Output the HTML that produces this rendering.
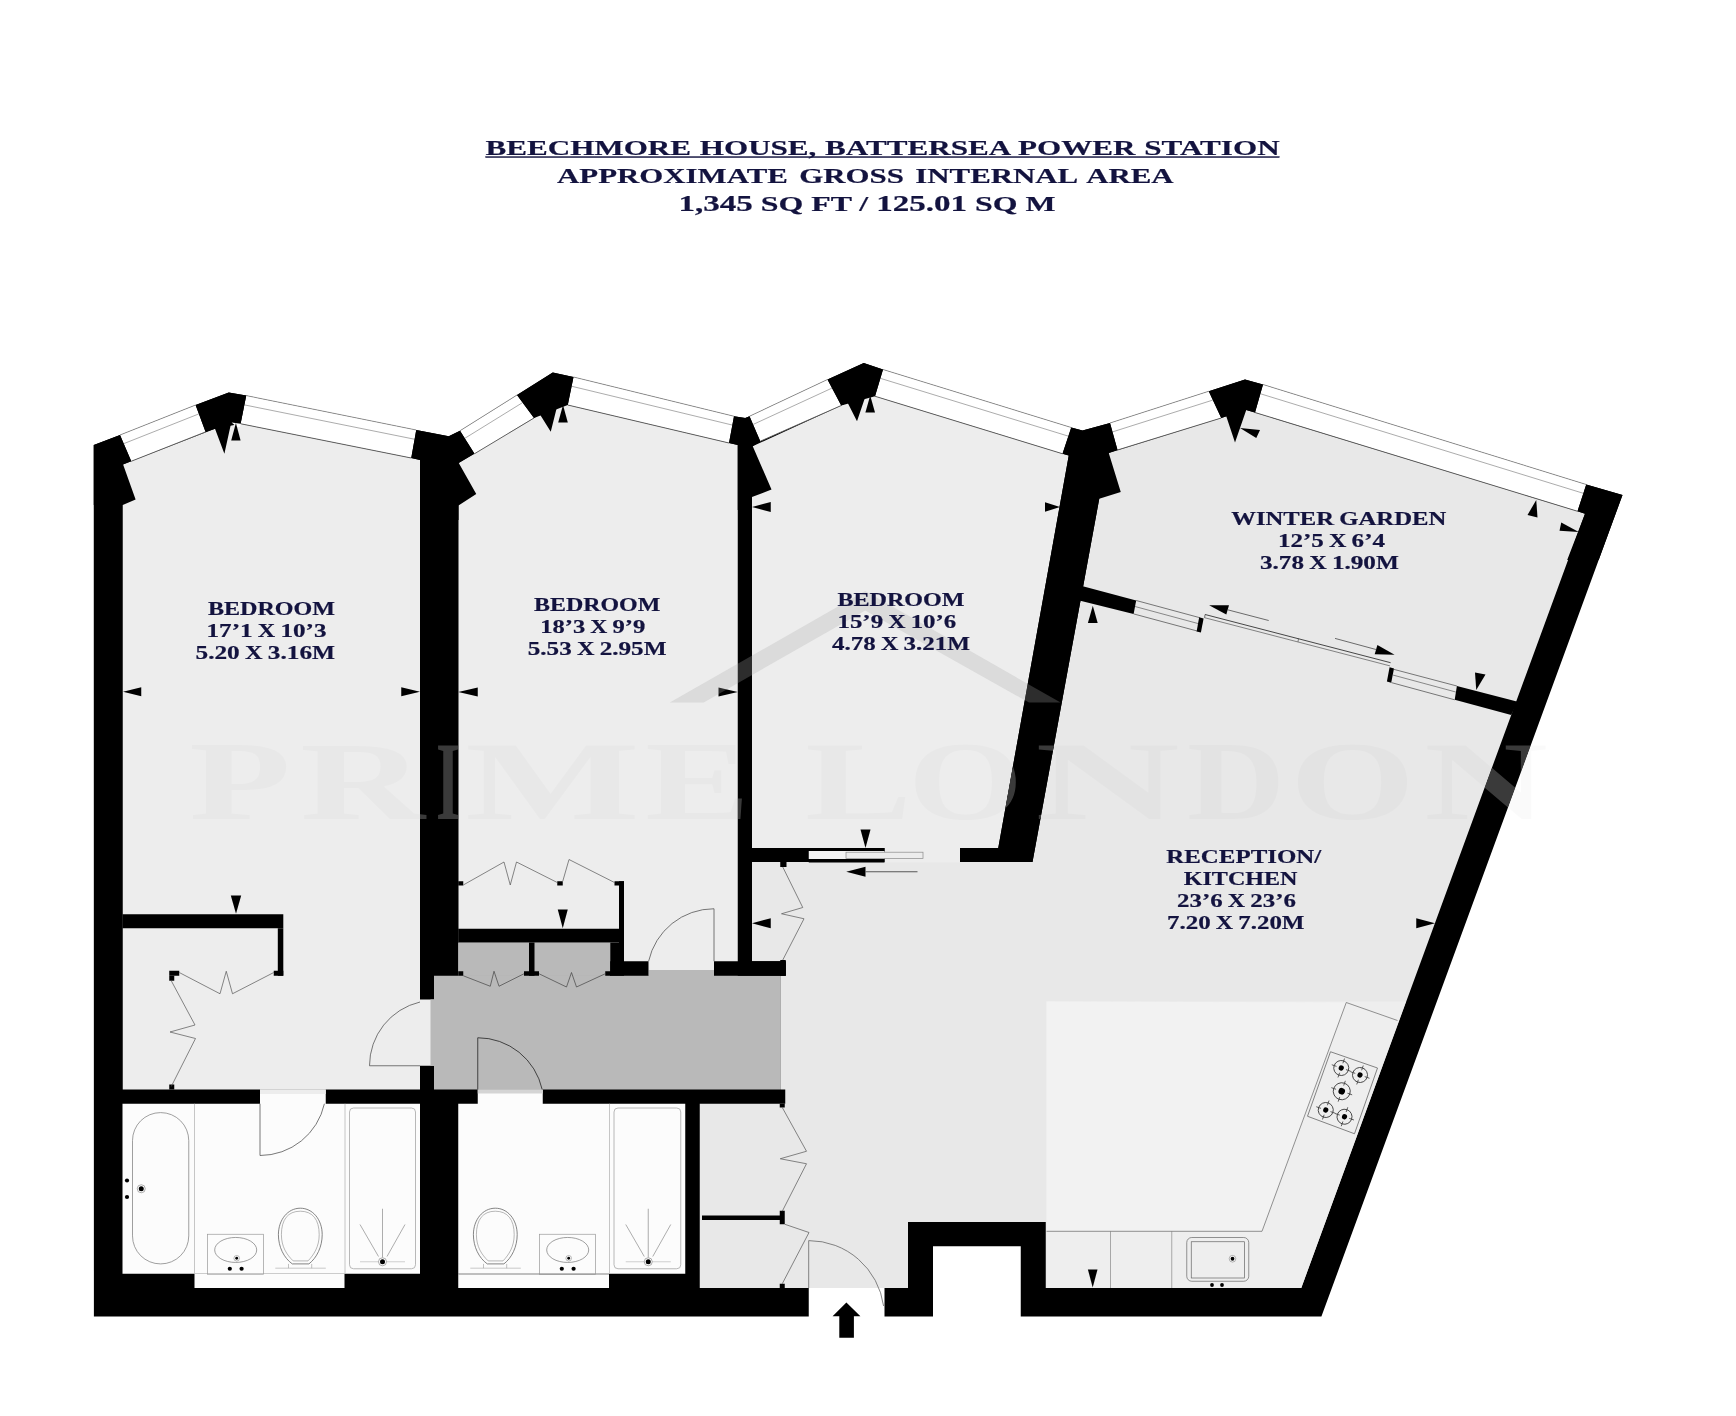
<!DOCTYPE html>
<html lang="en">
<head>
<meta charset="utf-8">
<title>Beechmore House, Battersea Power Station - Floor plan</title>
<style>
html,body{margin:0;padding:0;background:#fff;}
body{width:1736px;height:1416px;overflow:hidden;font-family:"Liberation Serif",serif;}
svg{display:block;}
</style>
</head>
<body>
<svg width="1736" height="1416" viewBox="0 0 1736 1416">
<rect width="1736" height="1416" fill="#fff"/>
<polygon points="93.75,445 120,435 195.6,405 228.75,392.5 246.25,395.6 416.25,430 448.75,436.25 460,430.75 517,395 552.75,372.5 573.5,377 734,416.25 745.25,418 749.5,416.25 827.5,379.5 863.75,363 883,369.5 1071.25,427.5 1082.5,430.5 1110,423 1208.75,391.25 1245,379.5 1263,384.5 1586.25,484.5 1622.5,495 1321.4,1316.6 93.9,1316.6" fill="#000" />
<polygon points="122.75,464.4 215,428.75 240.6,423.75 411.25,458 420,460 420,1089.5 122.75,1089.5" fill="#ededed" />
<polygon points="458.5,463 534,418 567.75,405 729,443 737.75,445 737.75,975.75 458.5,975.75" fill="#ededed" />
<polygon points="752,446.5 841.25,405.5 875,396.25 1062.5,453.75 1068.75,455.5 998.25,848 752,848" fill="#ededed" />
<polygon points="1032.5,862 1099.25,498.75 1108.75,453 1221.25,418 1246.25,410 1577.5,511.25 1585,513.75 1301.25,1288 1045.75,1288 1045.75,1222 908,1222 908,1288 699.75,1288 699.75,1103.75 785.25,1103.75 785.25,1089.5 780.25,1089.5 780.25,975.75 785.75,975.75 785.75,961.25 752,961.25 752,862" fill="#e8e8e8" />
<rect x="884.5" y="847" width="75.5" height="15.3" fill="#ededed" />
<rect x="419" y="999.5" width="16" height="66.25" fill="#ededed" />
<polygon points="1046.5,1001.5 1405.91,1001.5 1301.25,1288 1046.5,1288" fill="#eeeeee" />
<polygon points="1046.5,1001.5 1346.25,1002.5 1262,1231.3 1046.5,1231.3" fill="#f2f2f2" />
<rect x="434" y="975.75" width="346" height="113.75" fill="#b9b9b9" />
<rect x="458.25" y="942.5" width="152" height="33.25" fill="#b9b9b9" />
<rect x="648.5" y="970" width="65.5" height="6" fill="#b9b9b9" />
<rect x="430.5" y="999.5" width="4" height="66.25" fill="#b9b9b9" />
<rect x="122.5" y="1103.75" width="297.5" height="170" fill="#fcfcfc" />
<rect x="194.5" y="1273.75" width="150" height="14.25" fill="#fcfcfc" />
<rect x="260" y="1089.5" width="65.75" height="14.5" fill="#fcfcfc" />
<rect x="260" y="1089.5" width="65.75" height="4.5" fill="#ededed" />
<rect x="458.25" y="1103.75" width="227" height="170" fill="#fcfcfc" />
<rect x="458.25" y="1273.75" width="150.75" height="14.25" fill="#fcfcfc" />
<rect x="477.75" y="1089.5" width="65" height="14.5" fill="#fcfcfc" />
<rect x="477.75" y="1089.5" width="65" height="4" fill="#d4d4d4" />
<rect x="808.75" y="1288" width="75.75" height="30" fill="#fff" />
<rect x="933" y="1246.25" width="87.75" height="71.75" fill="#fff" />
<polygon points="120,435 195.6,405 205.6,431.9 131.25,461.25" fill="#fff" />
<polyline points="120,435 195.6,405" fill="none" stroke="#777" stroke-width="0.7" />
<polyline points="123.713,443.663 198.9,413.877" fill="none" stroke="#888" stroke-width="0.7" />
<polyline points="131.25,461.25 205.6,431.9" fill="none" stroke="#555" stroke-width="0.9" />
<polygon points="246.25,395.6 416.25,430 411.25,458 240.6,423.75" fill="#fff" />
<polyline points="246.25,395.6 416.25,430" fill="none" stroke="#777" stroke-width="0.7" />
<polyline points="244.386,404.889 414.6,439.24" fill="none" stroke="#888" stroke-width="0.7" />
<polyline points="240.6,423.75 411.25,458" fill="none" stroke="#555" stroke-width="0.9" />
<polygon points="460,430.75 517,395 534,418 474.5,453.75" fill="#fff" />
<polyline points="460,430.75 517,395" fill="none" stroke="#777" stroke-width="0.7" />
<polyline points="464.785,438.34 522.61,402.59" fill="none" stroke="#888" stroke-width="0.7" />
<polyline points="474.5,453.75 534,418" fill="none" stroke="#555" stroke-width="0.9" />
<polygon points="573.5,377 734,416.25 729,443 567.75,405" fill="#fff" />
<polyline points="573.5,377 734,416.25" fill="none" stroke="#777" stroke-width="0.7" />
<polyline points="571.602,386.24 732.35,425.077" fill="none" stroke="#888" stroke-width="0.7" />
<polyline points="567.75,405 729,443" fill="none" stroke="#555" stroke-width="0.9" />
<polygon points="749.5,416.25 827.5,379.5 841.25,405.5 760.25,441.25" fill="#fff" />
<polyline points="749.5,416.25 827.5,379.5" fill="none" stroke="#777" stroke-width="0.7" />
<polyline points="753.048,424.5 832.038,388.08" fill="none" stroke="#888" stroke-width="0.7" />
<polyline points="760.25,441.25 841.25,405.5" fill="none" stroke="#555" stroke-width="0.9" />
<polygon points="883,369.5 1071.25,427.5 1062.5,453.75 875,396.25" fill="#fff" />
<polyline points="883,369.5 1071.25,427.5" fill="none" stroke="#777" stroke-width="0.7" />
<polyline points="880.36,378.327 1068.36,436.163" fill="none" stroke="#888" stroke-width="0.7" />
<polyline points="875,396.25 1062.5,453.75" fill="none" stroke="#555" stroke-width="0.9" />
<polygon points="1110,423 1208.75,391.25 1221.25,418 1117.5,450" fill="#fff" />
<polyline points="1110,423 1208.75,391.25" fill="none" stroke="#777" stroke-width="0.7" />
<polyline points="1112.47,431.91 1212.88,400.077" fill="none" stroke="#888" stroke-width="0.7" />
<polyline points="1117.5,450 1221.25,418" fill="none" stroke="#555" stroke-width="0.9" />
<polygon points="1263,384.5 1586.25,484.5 1577.5,511.25 1255,412.5" fill="#fff" />
<polyline points="1263,384.5 1586.25,484.5" fill="none" stroke="#777" stroke-width="0.7" />
<polyline points="1260.36,393.74 1583.36,493.327" fill="none" stroke="#888" stroke-width="0.7" />
<polyline points="1255,412.5 1577.5,511.25" fill="none" stroke="#555" stroke-width="0.9" />
<polygon points="93.75,445 120,435 131.25,461.25 123.1,464.4 135.6,499.4 122.75,505 93.75,505" fill="#000" />
<polygon points="195.6,405 228.75,392.5 246.25,395.6 240.6,423.75 231.25,422.5 224.4,453.75 215,428.75 205.6,431.9" fill="#000" />
<polygon points="231.6,422.5 240.6,423.75 240,427 237,427" fill="#fff" />
<polygon points="416.25,430 448.75,436.25 460,430.75 474.5,453.75 458.75,463 476.25,494 458.5,505.5 458.5,520 420,520 420,460 411.25,458" fill="#000" />
<polygon points="517,395 552.75,372.5 573.5,377 567.75,405 557.75,403.75 550.75,431.75 540,414.5 534,418" fill="#000" />
<polygon points="734,416.25 745.25,418 749.5,416.25 760.25,441.25 752.75,446.25 771.5,489.5 752,497 752,510 737.75,510 737.75,445 729,443" fill="#000" />
<polygon points="827.5,379.5 863.75,363 883,369.5 875,396.25 866.25,394 857,421.25 847.5,402.5 841.25,405.5" fill="#000" />
<polygon points="1071.25,427.5 1082.5,430.5 1110,423 1117.5,450 1108.75,453 1120.75,492 1099.25,498.75 1032.5,862 960,862 960,848 998.25,848 1068.75,455.5 1062.5,453.75" fill="#000" />
<polygon points="1208.75,391.25 1245,379.5 1263,384.5 1255,412.5 1246.25,410 1235,442.5 1226.25,416.25 1221.25,418" fill="#000" />
<polygon points="1586.25,484.5 1622.5,495 1598.69,560 1567.19,560 1585,513.75 1577.5,511.25" fill="#000" />
<rect x="122.5" y="914.25" width="160.8" height="14" fill="#000" />
<rect x="277.8" y="928.25" width="5.5" height="47.5" fill="#000" />
<rect x="273.75" y="970.75" width="9.55" height="5" fill="#000" />
<rect x="169.25" y="970.75" width="10" height="5" fill="#000" />
<rect x="169.25" y="975.75" width="5" height="5" fill="#000" />
<rect x="169.25" y="1084.5" width="5" height="5" fill="#000" />
<rect x="458.25" y="928.75" width="165.75" height="13.75" fill="#000" />
<rect x="619" y="881.25" width="5" height="80" fill="#000" />
<rect x="614.5" y="881.25" width="9.5" height="4.25" fill="#000" />
<rect x="610.25" y="942.5" width="13.75" height="33.25" fill="#000" />
<rect x="610.25" y="961.25" width="38.25" height="14.5" fill="#000" />
<rect x="529" y="942.5" width="5.5" height="33.25" fill="#000" />
<rect x="714" y="961.25" width="71.75" height="14.5" fill="#000" />
<rect x="458.25" y="881.25" width="5" height="4.25" fill="#000" />
<rect x="557.25" y="881.25" width="5.5" height="4.25" fill="#000" />
<rect x="458.25" y="971.25" width="5" height="4.5" fill="#000" />
<rect x="524" y="971.25" width="15" height="4.5" fill="#000" />
<rect x="605.25" y="971.25" width="5.75" height="4.5" fill="#000" />
<rect x="780.25" y="862" width="6.25" height="5" fill="#000" />
<rect x="780.25" y="960" width="5.5" height="15.75" fill="#000" />
<rect x="752" y="848" width="56.75" height="14" fill="#000" />
<rect x="808.75" y="848" width="75.75" height="14.5" fill="#000" />
<rect x="808.75" y="851" width="75.75" height="8" fill="#f4f4f4" />
<rect x="846" y="852.2" width="77" height="6.2" fill="#ececec" stroke="#8a8a8a" stroke-width="0.7"/>
<polygon points="1081.9,585.9 1136.2,600.5 1133.6,613.9 1079.3,600.5" fill="#000" />
<polygon points="1456.9,686 1517.8,701.7 1511.2,715 1454.7,699.8" fill="#000" />
<rect x="702" y="1215.5" width="78.25" height="4.5" fill="#000" />
<rect x="779.75" y="1210.75" width="5" height="13.5" fill="#000" />
<rect x="779.75" y="1103.75" width="5" height="3.75" fill="#000" />
<rect x="779.75" y="1283.75" width="5" height="4.25" fill="#000" />
<polyline points="1136.2,600.5 1199.8,617.7" fill="none" stroke="#444" stroke-width="0.7" />
<polyline points="1135,606.5 1198.6,623.7" fill="none" stroke="#444" stroke-width="0.6" />
<polyline points="1133.6,613.9 1197.2,631" fill="none" stroke="#444" stroke-width="0.7" />
<polygon points="1199.2,617.2 1203.6,618.4 1200.9,632.6 1196.6,631.4" fill="#000" />
<polyline points="1205.1,614.5 1390.6,662.7" fill="none" stroke="#333" stroke-width="0.9" />
<polyline points="1204.6,617.7 1390,665.9" fill="none" stroke="#555" stroke-width="0.7" />
<polyline points="1205.1,614.5 1204.6,617.7" fill="none" stroke="#333" stroke-width="0.7" />
<polyline points="1298.5,638.6 1298,641.8" fill="none" stroke="#333" stroke-width="0.6" />
<polygon points="1389.6,667.3 1394,668.5 1391.2,682.8 1386.9,681.6" fill="#000" />
<polyline points="1394,669.4 1456.9,686" fill="none" stroke="#444" stroke-width="0.7" />
<polyline points="1392.8,675 1455.8,692" fill="none" stroke="#444" stroke-width="0.6" />
<polyline points="1391.4,682.6 1454.7,699.8" fill="none" stroke="#444" stroke-width="0.7" />
<polygon points="1209.1,605.2 1229,605.2 1226.3,614.5" fill="#000" />
<polyline points="1228,609.9 1268.7,620.5" fill="none" stroke="#333" stroke-width="0.7" />
<polygon points="1394.6,654.8 1377.4,645 1374.7,654.3" fill="#000" />
<polyline points="1335,638.4 1376,649.5" fill="none" stroke="#333" stroke-width="0.7" />
<polygon points="123,691.75 141.25,687.15 141.25,696.35" fill="#000" />
<polygon points="420,691.75 401.25,687.15 401.25,696.35" fill="#000" />
<polygon points="235.9,423.1 231.2,440.6 240.6,440.6" fill="#000" />
<polygon points="236,913.75 230.8,895.5 241.2,895.5" fill="#000" />
<polygon points="458.25,692 477.75,687.4 477.75,696.6" fill="#000" />
<polygon points="737.75,692 718.5,687.4 718.5,696.6" fill="#000" />
<polygon points="563,405 558.2,422.5 567.8,422.5" fill="#000" />
<polygon points="562.75,928.25 557.75,909.5 567.75,909.5" fill="#000" />
<polygon points="752,507 770.75,502 770.75,512" fill="#000" />
<polygon points="1060,507 1045,502.2 1045,511.8" fill="#000" />
<polygon points="870.2,395.5 865.4,412.5 875,412.5" fill="#000" />
<polygon points="865.5,848 860.5,829.5 870.5,829.5" fill="#000" />
<polygon points="752,923.25 770.75,918.25 770.75,928.25" fill="#000" />
<polygon points="846.25,871.75 865.5,866.75 865.5,876.75" fill="#000" />
<polyline points="865.5,871.75 917.5,871.75" fill="none" stroke="#333" stroke-width="0.8" />
<polygon points="1240,428 1260,430 1256.25,438" fill="#000" />
<polygon points="1536.25,500 1527.5,515 1537.5,517.5" fill="#000" />
<polygon points="1561.25,522.5 1578.75,532 1559.5,530.75" fill="#000" />
<polygon points="1476.25,690 1475,672.5 1485.5,674.5" fill="#000" />
<polygon points="1092.8,605.8 1087.9,623 1097.7,623" fill="#000" />
<polygon points="1435,923.25 1416.25,918.25 1416.25,928.25" fill="#000" />
<polygon points="1092.7,1287.5 1087.9,1269.5 1097.5,1269.5" fill="#000" />
<polygon points="846.4,1302.5 860.4,1316.25 853.9,1316.25 853.9,1337.8 839.3,1337.8 839.3,1316.25 832.6,1316.25" fill="#000" />
<path d="M420,1065.75 L369.5,1065.75 A65.5,65.5 0 0 1 420,1002" fill="none" stroke="#555" stroke-width="0.8"/>
<path d="M714,961.25 L714,908.75 A67,67 0 0 0 648.6,961.25" fill="none" stroke="#555" stroke-width="0.8"/>
<path d="M260,1103.75 L260,1155.5 A66,66 0 0 0 324.4,1103.75" fill="none" stroke="#555" stroke-width="0.8"/>
<path d="M477.75,1089.5 L477.75,1037.75 A66,66 0 0 1 542.2,1089.5" fill="none" stroke="#333" stroke-width="0.9"/>
<path d="M808.7,1288 L808.7,1240.6 A75.6,75.6 0 0 1 883.6,1306" fill="none" stroke="#666" stroke-width="0.8"/>
<polyline points="179.25,972.5 220,993.75 226.25,971.25 232.5,993.75 273.75,972.5" fill="none" stroke="#555" stroke-width="0.7" />
<polyline points="171.25,980.75 195,1025 170,1032 195.5,1038.5 171.25,1086.5" fill="none" stroke="#555" stroke-width="0.7" />
<polyline points="463.25,885 504,862 510.25,885 516.5,862 557.25,882.5" fill="none" stroke="#555" stroke-width="0.7" />
<polyline points="562.75,881.25 569,859.5 614.5,882.5" fill="none" stroke="#555" stroke-width="0.7" />
<polyline points="463.25,975.75 490.25,986.25 494,971.25 499,986.25 524,973.75" fill="none" stroke="#444" stroke-width="0.7" />
<polyline points="539,973.75 566.5,987 571.5,972.5 576.5,987 605.25,973.75" fill="none" stroke="#444" stroke-width="0.7" />
<polyline points="782.75,867 802.75,907.5 781.5,913.75 804,918.75 782.75,960" fill="none" stroke="#555" stroke-width="0.7" />
<polyline points="782.25,1107.5 806.5,1151.25 780.25,1158.75 806.5,1163.75 782.25,1211.25" fill="none" stroke="#555" stroke-width="0.7" />
<polyline points="784.75,1224.25 809,1232.5 782.25,1283.75" fill="none" stroke="#555" stroke-width="0.7" />
<rect x="132.5" y="1112.6" width="56.25" height="151.3" rx="28" ry="28" fill="none" stroke="#777" stroke-width="0.7"/>
<polyline points="194.5,1103.75 194.5,1273.75" fill="none" stroke="#b8b8b8" stroke-width="0.8" />
<circle cx="127" cy="1180.5" r="2.1"/><circle cx="127" cy="1197" r="2.1"/>
<circle cx="141.25" cy="1188.75" r="4" fill="#fff" stroke="#777" stroke-width="0.6"/><circle cx="141.25" cy="1188.75" r="2.5"/>
<rect x="207.5" y="1234.25" width="56" height="40" fill="none" stroke="#999" stroke-width="0.7"/>
<ellipse cx="235.7" cy="1249.95" rx="21" ry="12.5" fill="none" stroke="#777" stroke-width="0.7"/>
<circle cx="236.7" cy="1258.25" r="2.8" fill="#fff" stroke="#777" stroke-width="0.5"/><circle cx="236.7" cy="1258.25" r="1.4"/>
<circle cx="229.79999999999998" cy="1268.75" r="2.1"/><circle cx="241.6" cy="1268.75" r="2.1"/>
<path d="M292.3,1263.9 L308.9,1263.9 C316.8,1257.9 322.2,1246.7 322.2,1234.7 C322.2,1219.7 312.8,1208.2 300.3,1208.2 C287.8,1208.2 278.4,1219.7 278.4,1234.7 C278.4,1246.7 283.8,1257.9 292.3,1263.9 Z" fill="none" stroke="#666" stroke-width="0.8"/>
<path d="M293.2,1260.9 L308,1260.9 C313.8,1254.9 319.2,1246.7 319.2,1234.7 C319.2,1219.7 312.8,1211.2 300.3,1211.2 C287.8,1211.2 281.4,1219.7 281.4,1234.7 C281.4,1246.7 286.8,1254.9 293.2,1260.9 Z" fill="none" stroke="#888" stroke-width="0.6"/>
<polyline points="275.3,1268.2 325.8,1268.2" fill="none" stroke="#bbb" stroke-width="0.8" />
<polyline points="288.5,1263.9 288.5,1268.2" fill="none" stroke="#999" stroke-width="0.6" />
<polyline points="311.7,1263.9 311.7,1268.2" fill="none" stroke="#999" stroke-width="0.6" />
<polyline points="345,1103.75 345,1273.75" fill="none" stroke="#b8b8b8" stroke-width="0.8" />
<rect x="349.5" y="1108" width="66" height="160.75" rx="4" ry="4" fill="none" stroke="#b0b0b0" stroke-width="0.9"/>
<polyline points="382.5,1208.75 382.5,1257.5" fill="none" stroke="#777" stroke-width="0.6" />
<polyline points="360,1224.5 378.5,1256.5" fill="none" stroke="#777" stroke-width="0.6" />
<polyline points="405,1224.5 387,1256.5" fill="none" stroke="#777" stroke-width="0.6" />
<polyline points="360,1261.75 405,1261.75" fill="none" stroke="#bbb" stroke-width="0.7" />
<circle cx="382.5" cy="1261.75" r="4" fill="#fff" stroke="#777" stroke-width="0.6"/><circle cx="382.5" cy="1261.75" r="2.5"/>
<path d="M487.3,1263.9 L503.9,1263.9 C511.8,1257.9 517.2,1246.7 517.2,1234.7 C517.2,1219.7 507.8,1208.2 495.3,1208.2 C482.8,1208.2 473.4,1219.7 473.4,1234.7 C473.4,1246.7 478.8,1257.9 487.3,1263.9 Z" fill="none" stroke="#666" stroke-width="0.8"/>
<path d="M488.2,1260.9 L503,1260.9 C508.8,1254.9 514.2,1246.7 514.2,1234.7 C514.2,1219.7 507.8,1211.2 495.3,1211.2 C482.8,1211.2 476.4,1219.7 476.4,1234.7 C476.4,1246.7 481.8,1254.9 488.2,1260.9 Z" fill="none" stroke="#888" stroke-width="0.6"/>
<polyline points="470.3,1268.2 520.8,1268.2" fill="none" stroke="#bbb" stroke-width="0.8" />
<polyline points="483.5,1263.9 483.5,1268.2" fill="none" stroke="#999" stroke-width="0.6" />
<polyline points="506.7,1263.9 506.7,1268.2" fill="none" stroke="#999" stroke-width="0.6" />
<rect x="539.5" y="1234.25" width="56" height="40" fill="none" stroke="#999" stroke-width="0.7"/>
<ellipse cx="567.7" cy="1249.95" rx="21" ry="12.5" fill="none" stroke="#777" stroke-width="0.7"/>
<circle cx="568.7" cy="1258.25" r="2.8" fill="#fff" stroke="#777" stroke-width="0.5"/><circle cx="568.7" cy="1258.25" r="1.4"/>
<circle cx="561.8000000000001" cy="1268.75" r="2.1"/><circle cx="573.6" cy="1268.75" r="2.1"/>
<polyline points="458.25,1274.25 609,1274.25" fill="none" stroke="#888" stroke-width="0.7" />
<polyline points="609.5,1103.75 609.5,1273.75" fill="none" stroke="#b8b8b8" stroke-width="0.8" />
<rect x="614.0" y="1108" width="66.75" height="160.75" rx="4" ry="4" fill="none" stroke="#b0b0b0" stroke-width="0.9"/>
<polyline points="648.25,1208.75 648.25,1257.5" fill="none" stroke="#777" stroke-width="0.6" />
<polyline points="625.75,1224.5 644.25,1256.5" fill="none" stroke="#777" stroke-width="0.6" />
<polyline points="670.75,1224.5 652.75,1256.5" fill="none" stroke="#777" stroke-width="0.6" />
<polyline points="625.75,1261.75 670.75,1261.75" fill="none" stroke="#bbb" stroke-width="0.7" />
<circle cx="648.25" cy="1261.75" r="4" fill="#fff" stroke="#777" stroke-width="0.6"/><circle cx="648.25" cy="1261.75" r="2.5"/>
<polyline points="1046.5,1231.3 1262,1231.3 1346.25,1002.5 1397.5,1020.5" fill="none" stroke="#666" stroke-width="0.7" />
<polyline points="1110.5,1231 1110.5,1288" fill="none" stroke="#888" stroke-width="0.7" />
<polyline points="1171.75,1231 1171.75,1288" fill="none" stroke="#888" stroke-width="0.7" />
<rect x="1186.75" y="1237.5" width="62" height="43.75" rx="5" ry="5" fill="none" stroke="#666" stroke-width="0.7"/>
<rect x="1191.25" y="1241.75" width="53.25" height="36.25" fill="none" stroke="#666" stroke-width="0.7"/>
<circle cx="1232.5" cy="1258.75" r="3.3" fill="#fff" stroke="#666" stroke-width="0.5"/><circle cx="1232.5" cy="1258.75" r="1.9"/>
<circle cx="1212" cy="1285" r="1.9"/><circle cx="1222" cy="1285" r="1.9"/>
<polygon points="1330.5,1051.75 1377.5,1068 1354.5,1133.75 1307.5,1116.25" fill="none" stroke="#666" stroke-width="0.8"/>
<g transform="rotate(19 1341.25 1068)"><circle cx="1341.25" cy="1068" r="7.5" fill="none" stroke="#333" stroke-width="0.8"/><path d="M1331.25,1068 h5 M1346.25,1068 h5 M1341.25,1058.0 v5 M1341.25,1073.0 v5" stroke="#333" stroke-width="0.7"/><circle cx="1341.25" cy="1068" r="2.6"/></g>
<g transform="rotate(19 1360 1075)"><circle cx="1360" cy="1075" r="7.5" fill="none" stroke="#333" stroke-width="0.8"/><path d="M1350.0,1075 h5 M1365.0,1075 h5 M1360,1065.0 v5 M1360,1080.0 v5" stroke="#333" stroke-width="0.7"/><circle cx="1360" cy="1075" r="2.6"/></g>
<g transform="rotate(19 1341.75 1091.25)"><circle cx="1341.75" cy="1091.25" r="8.5" fill="none" stroke="#333" stroke-width="0.8"/><path d="M1330.75,1091.25 h5 M1347.75,1091.25 h5 M1341.75,1080.25 v5 M1341.75,1097.25 v5" stroke="#333" stroke-width="0.7"/><circle cx="1341.75" cy="1091.25" r="3.3"/></g>
<g transform="rotate(19 1325.75 1110)"><circle cx="1325.75" cy="1110" r="7.5" fill="none" stroke="#333" stroke-width="0.8"/><path d="M1315.75,1110 h5 M1330.75,1110 h5 M1325.75,1100.0 v5 M1325.75,1115.0 v5" stroke="#333" stroke-width="0.7"/><circle cx="1325.75" cy="1110" r="2.6"/></g>
<g transform="rotate(19 1344.5 1116.75)"><circle cx="1344.5" cy="1116.75" r="7.5" fill="none" stroke="#333" stroke-width="0.8"/><path d="M1334.5,1116.75 h5 M1349.5,1116.75 h5 M1344.5,1106.75 v5 M1344.5,1121.75 v5" stroke="#333" stroke-width="0.7"/><circle cx="1344.5" cy="1116.75" r="2.6"/></g>
<polygon points="669.8,702.6 865.2,591 1060.6,702.6 1029,702.6 865.2,610.5 703.7,702.6" fill="rgba(170,170,170,0.265)" />
<g font-family="'Liberation Serif', serif" font-weight="bold" font-size="113" fill="#3c3c3c" style="mix-blend-mode:lighten">
<text x="189" y="819.4" textLength="102" lengthAdjust="spacingAndGlyphs">P</text>
<text x="300" y="819.4" textLength="125" lengthAdjust="spacingAndGlyphs">R</text>
<text x="436" y="819.4" textLength="24" lengthAdjust="spacingAndGlyphs">I</text>
<text x="465" y="819.4" textLength="175" lengthAdjust="spacingAndGlyphs">M</text>
<text x="645" y="819.4" textLength="105" lengthAdjust="spacingAndGlyphs">E</text>
<text x="805" y="819.4" textLength="107" lengthAdjust="spacingAndGlyphs">L</text>
<text x="908" y="819.4" textLength="115" lengthAdjust="spacingAndGlyphs">O</text>
<text x="1035" y="819.4" textLength="145" lengthAdjust="spacingAndGlyphs">N</text>
<text x="1187" y="819.4" textLength="98" lengthAdjust="spacingAndGlyphs">D</text>
<text x="1290" y="819.4" textLength="125" lengthAdjust="spacingAndGlyphs">O</text>
<text x="1424" y="819.4" textLength="124" lengthAdjust="spacingAndGlyphs">N</text>
</g>
<g font-family="'Liberation Serif', serif" font-weight="bold" font-size="113" fill="rgba(0,0,0,0.018)">
<text x="189" y="819.4" textLength="102" lengthAdjust="spacingAndGlyphs">P</text>
<text x="300" y="819.4" textLength="125" lengthAdjust="spacingAndGlyphs">R</text>
<text x="436" y="819.4" textLength="24" lengthAdjust="spacingAndGlyphs">I</text>
<text x="465" y="819.4" textLength="175" lengthAdjust="spacingAndGlyphs">M</text>
<text x="645" y="819.4" textLength="105" lengthAdjust="spacingAndGlyphs">E</text>
<text x="805" y="819.4" textLength="107" lengthAdjust="spacingAndGlyphs">L</text>
<text x="908" y="819.4" textLength="115" lengthAdjust="spacingAndGlyphs">O</text>
<text x="1035" y="819.4" textLength="145" lengthAdjust="spacingAndGlyphs">N</text>
<text x="1187" y="819.4" textLength="98" lengthAdjust="spacingAndGlyphs">D</text>
<text x="1290" y="819.4" textLength="125" lengthAdjust="spacingAndGlyphs">O</text>
<text x="1424" y="819.4" textLength="124" lengthAdjust="spacingAndGlyphs">N</text>
</g>
<g font-family="'Liberation Serif', serif" font-weight="bold" fill="#13133f" stroke="#13133f" stroke-width="0.2" word-spacing="-0.04em">
<text x="485.5" y="154.5" font-size="21.5" textLength="794.1" lengthAdjust="spacingAndGlyphs" word-spacing="0.03em">BEECHMORE HOUSE, BATTERSEA POWER STATION</text>
<rect x="485.5" y="156.4" width="794" height="1.3" fill="#13133f"/>
<text x="557" y="183.25" font-size="21.5" textLength="616.6" lengthAdjust="spacingAndGlyphs" word-spacing="0.12em">APPROXIMATE GROSS INTERNAL AREA</text>
<text x="678.5" y="211.25" font-size="21.5" textLength="377" lengthAdjust="spacingAndGlyphs" word-spacing="0em"><tspan font-size="22.3">1,345</tspan> SQ FT / <tspan font-size="22.3">125.01</tspan> SQ M</text>
<text x="208" y="615" font-size="18.4" textLength="127" lengthAdjust="spacingAndGlyphs" >BEDROOM</text>
<text x="206.5" y="637" font-size="18.4" textLength="120" lengthAdjust="spacingAndGlyphs" ><tspan font-size="19.136">17’1</tspan> X <tspan font-size="19.136">10’3</tspan></text>
<text x="195.5" y="658.8" font-size="18.4" textLength="139.5" lengthAdjust="spacingAndGlyphs" ><tspan font-size="19.136">5.20</tspan> X <tspan font-size="19.136">3.16</tspan>M</text>
<text x="534" y="610.75" font-size="18.4" textLength="126.25" lengthAdjust="spacingAndGlyphs" >BEDROOM</text>
<text x="540.25" y="632.5" font-size="18.4" textLength="105" lengthAdjust="spacingAndGlyphs" ><tspan font-size="19.136">18’3</tspan> X <tspan font-size="19.136">9’9</tspan></text>
<text x="527.75" y="654.5" font-size="18.4" textLength="138.75" lengthAdjust="spacingAndGlyphs" ><tspan font-size="19.136">5.53</tspan> X <tspan font-size="19.136">2.95</tspan>M</text>
<text x="837.5" y="606.25" font-size="18.4" textLength="127" lengthAdjust="spacingAndGlyphs" >BEDROOM</text>
<text x="837.5" y="628.25" font-size="18.4" textLength="118.75" lengthAdjust="spacingAndGlyphs" ><tspan font-size="19.136">15’9</tspan> X <tspan font-size="19.136">10’6</tspan></text>
<text x="832" y="650" font-size="18.4" textLength="138" lengthAdjust="spacingAndGlyphs" ><tspan font-size="19.136">4.78</tspan> X <tspan font-size="19.136">3.21</tspan>M</text>
<text x="1231.25" y="524.5" font-size="18.4" textLength="215" lengthAdjust="spacingAndGlyphs" >WINTER GARDEN</text>
<text x="1278" y="547" font-size="18.4" textLength="107" lengthAdjust="spacingAndGlyphs" ><tspan font-size="19.136">12’5</tspan> X <tspan font-size="19.136">6’4</tspan></text>
<text x="1260" y="568.75" font-size="18.4" textLength="138.75" lengthAdjust="spacingAndGlyphs" ><tspan font-size="19.136">3.78</tspan> X <tspan font-size="19.136">1.90</tspan>M</text>
<text x="1166.25" y="862.5" font-size="18.4" textLength="155" lengthAdjust="spacingAndGlyphs" >RECEPTION/</text>
<text x="1183.75" y="885" font-size="18.4" textLength="113.75" lengthAdjust="spacingAndGlyphs" >KITCHEN</text>
<text x="1177" y="907" font-size="18.4" textLength="119" lengthAdjust="spacingAndGlyphs" ><tspan font-size="19.136">23’6</tspan> X <tspan font-size="19.136">23’6</tspan></text>
<text x="1167" y="928.75" font-size="18.4" textLength="137.5" lengthAdjust="spacingAndGlyphs" ><tspan font-size="19.136">7.20</tspan> X <tspan font-size="19.136">7.20</tspan>M</text>
</g>
</svg>
</body>
</html>
